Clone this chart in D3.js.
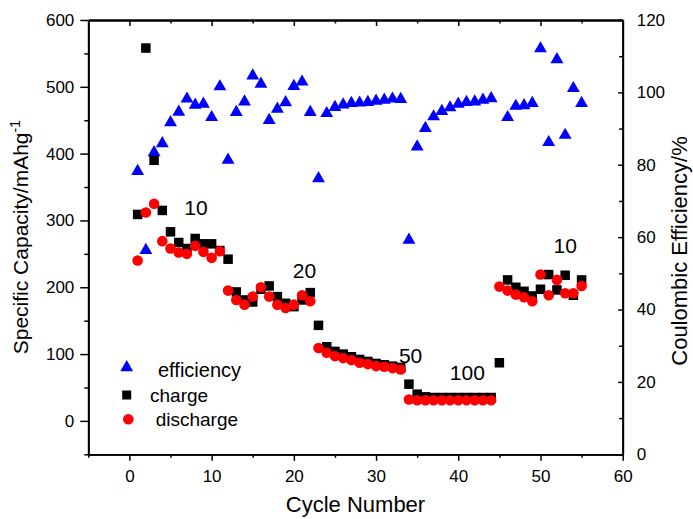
<!DOCTYPE html>
<html>
<head>
<meta charset="utf-8">
<script src="https://cdn.jsdelivr.net/npm/d3@7"></script>
<style>
  html, body { margin: 0; padding: 0; background: #fff; }
  svg text { font-family: "Liberation Sans", Arial, sans-serif; fill: #000; }
</style>
</head>
<body>
<svg id="chart" width="693" height="519"></svg>
<script>
// Rate-capability test: cycle number vs. specific capacity and coulombic efficiency
const cycles = [1,2,3,4,5,6,7,8,9,10,11,12,13,14,15,16,17,18,19,20,
                21,22,23,24,25,26,27,28,29,30,31,32,33,34,35,36,37,38,39,40,
                41,42,43,44,45,46,47,48,49,50,51,52,53,54,55];

// Coulombic efficiency (%), right axis
const efficiency = [78.2, 56.4, 83.4, 85.9, 91.7, 94.6, 98.2, 96.5, 96.8, 93.1,
                    101.6, 81.3, 94.5, 97.4, 104.6, 102.3, 92.3, 95.4, 97.2, 101.7,
                    102.9, 94.5, 76.2, 94.2, 95.9, 96.6, 97.0, 97.1, 97.3, 97.6,
                    97.9, 98.2, 98.1, 59.2, 85.0, 90.1, 93.3, 94.8, 95.8, 96.8,
                    97.3, 97.4, 97.9, 98.3, null, 93.1, 96.2, 96.4, 97.0, 112.1,
                    86.2, 109.1, 88.2, 101.1, 97.0];

// Charge capacity (mAh/g), left axis
const charge = [309, 558, 390, 315, 283, 267, 258, 273, 265, 265,
                255, 242, 193, 181, 178, 197, 202, 186, 176, 171,
                181, 192, 143, 111, 104, 100, 96, 92, 89, 86,
                84, 82, 80, 55, 40, 36, 35, 35, 35, 35,
                35, 35, 35, 35, 87, 211, 200, 194, 187, 197,
                219, 196, 218, 188, 211];

// Discharge capacity (mAh/g), left axis
const discharge = [240, 312, 325, 269, 258, 252, 250, 262, 253, 244,
                   254, 195, 181, 174, 186, 200, 186, 174, 169, 174,
                   188, 179, 109, 102, 97, 94, 91, 87, 85, 82,
                   81, 79, 77, 32, 31, 31, 31, 31, 31, 31,
                   31, 31, 31, 31, 201, 195, 189, 185, 179, 219,
                   188, 211, 191, 191, 202];

// Current-rate annotations
const rateLabels = [
  {text: "10",  cycle: 8.1,  cap: 319},
  {text: "20",  cycle: 21.3, cap: 225},
  {text: "50",  cycle: 34.2, cap: 98},
  {text: "100", cycle: 41.1, cap: 72},
  {text: "10",  cycle: 53.0, cap: 263}
];

const xTicks = [0, 10, 20, 30, 40, 50, 60];
const yTicks = [0, 100, 200, 300, 400, 500, 600];
const y2Ticks = [0, 20, 40, 60, 80, 100, 120];

const svg = d3.select("#chart");
const plotL = 88.3, plotR = 622.7, plotT = 20, plotB = 454.3;

const x = d3.scaleLinear().domain([-5, 60]).range([plotL, plotR]);
const y = d3.scaleLinear().domain([-50, 600]).range([plotB, plotT]);
const y2 = d3.scaleLinear().domain([0, 120]).range([plotB, plotT]);

const axisW = 1.8;
const tickFont = "17px";

// ----- frame and axes -----
const gx = svg.append("g").attr("transform", `translate(0,${plotB})`)
  .call(d3.axisBottom(x).tickValues(xTicks).tickSize(6.5).tickPadding(9).tickSizeOuter(0));
const gxMinor = svg.append("g").attr("transform", `translate(0,${plotB})`)
  .call(d3.axisBottom(x).tickValues([-5, 5, 15, 25, 35, 45, 55]).tickSize(3.5).tickFormat("").tickSizeOuter(0));

const gxTop = svg.append("g").attr("transform", `translate(0,${plotT})`)
  .call(d3.axisTop(x).tickValues(xTicks).tickSize(-6).tickFormat("").tickSizeOuter(0));
const gxTopMinor = svg.append("g").attr("transform", `translate(0,${plotT})`)
  .call(d3.axisTop(x).tickValues([5, 15, 25, 35, 45, 55]).tickSize(-3.5).tickFormat("").tickSizeOuter(0));

const gy = svg.append("g").attr("transform", `translate(${plotL},0)`)
  .call(d3.axisLeft(y).tickValues(yTicks).tickSize(8).tickPadding(6).tickSizeOuter(0));
const gyMinor = svg.append("g").attr("transform", `translate(${plotL},0)`)
  .call(d3.axisLeft(y).tickValues([-50, 50, 150, 250, 350, 450, 550]).tickSize(4).tickFormat("").tickSizeOuter(0));

const gy2 = svg.append("g").attr("transform", `translate(${plotR},0)`)
  .call(d3.axisRight(y2).tickValues(y2Ticks).tickSize(-4.5).tickPadding(14).tickSizeOuter(0));
const gy2Minor = svg.append("g").attr("transform", `translate(${plotR},0)`)
  .call(d3.axisRight(y2).tickValues([10, 30, 50, 70, 90, 110]).tickSize(-3.5).tickFormat("").tickSizeOuter(0));

[gx, gxMinor, gxTop, gxTopMinor, gy, gyMinor, gy2, gy2Minor].forEach(g => {
  g.select(".domain").attr("stroke", "#000").attr("stroke-width", axisW);
  g.selectAll(".tick line").attr("stroke", "#000").attr("stroke-width", 1.5);
  g.selectAll(".tick text").style("font-size", tickFont)
    .style("font-family", '"Liberation Sans", Arial, sans-serif').attr("fill", "#000");
});

// ----- axis titles -----
svg.append("text")
  .attr("x", (plotL + plotR) / 2).attr("y", 512)
  .attr("text-anchor", "middle").style("font-size", "22px")
  .text("Cycle Number");

const yTitle = svg.append("text")
  .attr("transform", `translate(28,${(plotT + plotB) / 2}) rotate(-90)`)
  .attr("text-anchor", "middle").style("font-size", "21px");
yTitle.append("tspan").text("Specific Capacity/mAhg");
yTitle.append("tspan").attr("dy", "-0.55em").style("font-size", "14px").text("-1");

svg.append("text")
  .attr("transform", `translate(687,251) rotate(-90)`)
  .attr("text-anchor", "middle").style("font-size", "22px")
  .text("Coulombic Efficiency/%");

// ----- data marks -----
const rows = cycles.map((c, i) => ({c, eff: efficiency[i], ch: charge[i], dis: discharge[i]}));

const tri = d3.symbol().type(d3.symbolTriangle).size(72);

svg.append("g").selectAll("path")
  .data(rows.filter(d => d.eff != null))
  .join("path")
  .attr("d", tri)
  .attr("transform", d => `translate(${x(d.c)},${y2(d.eff)})`)
  .attr("fill", "#0000ff");

const sq = 9.5;
svg.append("g").selectAll("rect")
  .data(rows)
  .join("rect")
  .attr("x", d => x(d.c) - sq / 2)
  .attr("y", d => y(d.ch) - sq / 2)
  .attr("width", sq).attr("height", sq)
  .attr("fill", "#000");

svg.append("g").selectAll("circle")
  .data(rows)
  .join("circle")
  .attr("cx", d => x(d.c))
  .attr("cy", d => y(d.dis))
  .attr("r", 5.3)
  .attr("fill", "#ff0000");

// ----- rate annotations -----
svg.append("g").selectAll("text")
  .data(rateLabels)
  .join("text")
  .attr("x", d => x(d.cycle))
  .attr("y", d => y(d.cap))
  .attr("text-anchor", "middle")
  .attr("dy", "0.36em")
  .style("font-size", "21px")
  .text(d => d.text);

// ----- legend -----
const legend = svg.append("g");
legend.append("path").attr("d", tri).attr("transform", "translate(126.7,367.5)").attr("fill", "#0000ff");
legend.append("text").attr("x", 158).attr("y", 377).style("font-size", "20px").text("efficiency");
legend.append("rect").attr("x", 126.7 - 4.5).attr("y", 395 - 4.5).attr("width", 9).attr("height", 9).attr("fill", "#000");
legend.append("text").attr("x", 150).attr("y", 401.5).style("font-size", "19px").text("charge");
legend.append("circle").attr("cx", 128.3).attr("cy", 419.3).attr("r", 5.3).attr("fill", "#ff0000");
legend.append("text").attr("x", 155.7).attr("y", 425.5).style("font-size", "19px").text("discharge");
</script>
</body>
</html>
